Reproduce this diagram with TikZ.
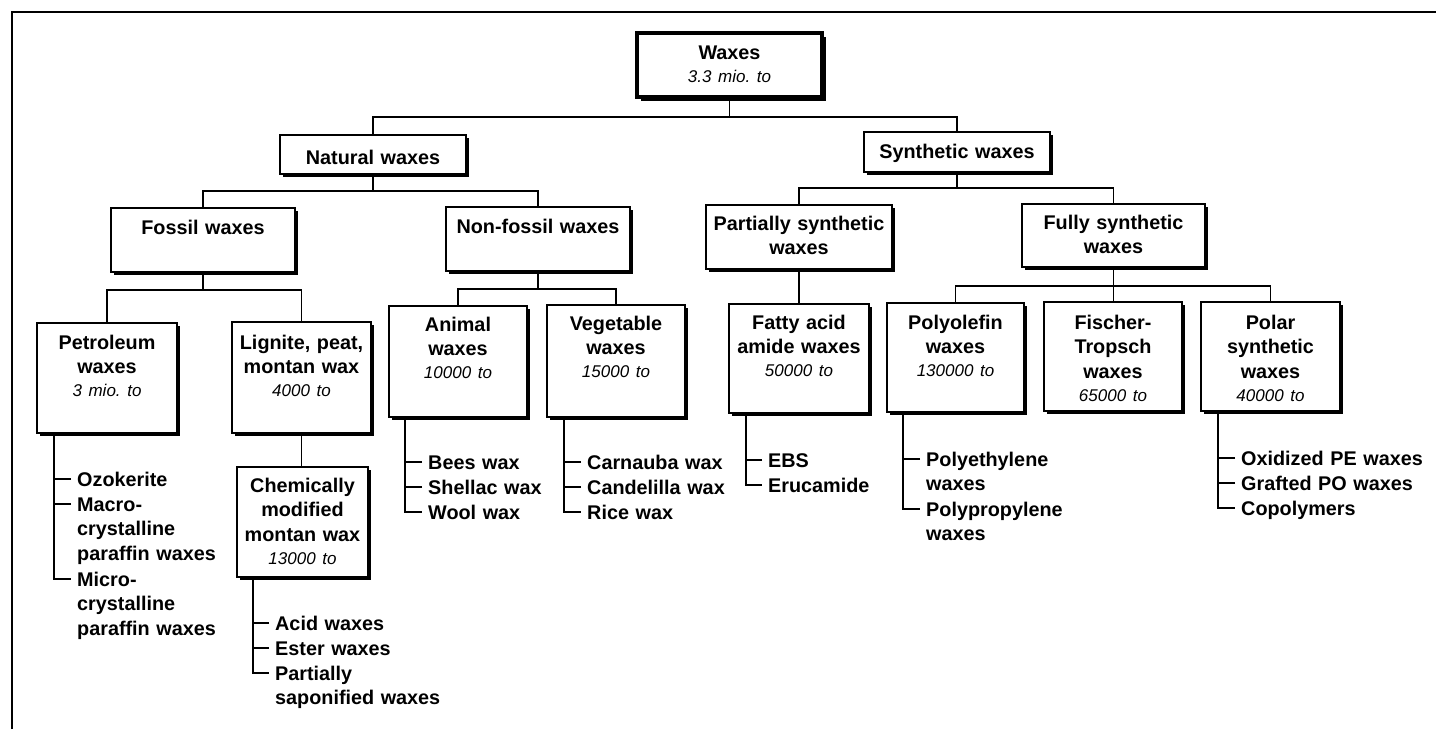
\documentclass[tikz,border=0pt]{standalone}
\usepackage{fontspec}
\setmainfont{Liberation Sans}
\usetikzlibrary{shadows}
\frenchspacing
\newcommand\amt[1]{{\mdseries\itshape\fontsize{17bp}{22bp}\selectfont\frenchspacing #1}}
\tikzset{
  conn/.style={line width=1.4bp},
  frame/.style={line width=1.4bp},
  wbox/.style={draw, line width=1.7bp, fill=white, inner sep=0pt,
    drop shadow={shadow xshift=2.8bp, shadow yshift=-2.8bp, opacity=1, fill=black}},
  rootbox/.style={draw, line width=3.6bp, fill=white, inner sep=0pt,
    drop shadow={shadow xshift=3.6bp, shadow yshift=-3.6bp, opacity=1, fill=black}},
  lbl/.style={anchor=base, inner sep=0pt, text width=200bp, align=center,
    font=\bfseries\fontsize{19.8bp}{24.8bp}\selectfont},
  item/.style={anchor=base west, inner sep=0pt, text width=210bp, align=left,
    font=\bfseries\fontsize{19.8bp}{24.8bp}\selectfont},
}
\begin{document}
\begin{tikzpicture}[x=1bp,y=-1bp]
\useasboundingbox (0,0) rectangle (1436,729);
% frame
\draw[frame] (12,729) -- (12,12) -- (1436,12);

% boxes
\node[rootbox, minimum width=185bp, minimum height=64bp] (waxes) at (729.5,65) {};
\node[wbox, minimum width=186bp, minimum height=39bp] (natural) at (373,154.5) {};
\node[wbox, minimum width=186bp, minimum height=40bp] (synthetic) at (957,152) {};
\node[wbox, minimum width=184bp, minimum height=64bp] (fossil) at (203,240) {};
\node[wbox, minimum width=184bp, minimum height=64bp] (nonfossil) at (538,239) {};
\node[wbox, minimum width=186bp, minimum height=64bp] (partial) at (799,237) {};
\node[wbox, minimum width=183bp, minimum height=63bp] (fully) at (1113.5,235.5) {};
\node[wbox, minimum width=140bp, minimum height=110bp] (petroleum) at (107,378) {};
\node[wbox, minimum width=139bp, minimum height=111bp] (lignite) at (301.5,377.5) {};
\node[wbox, minimum width=138bp, minimum height=111bp] (animal) at (458,361.5) {};
\node[wbox, minimum width=138bp, minimum height=112bp] (vegetable) at (616,361) {};
\node[wbox, minimum width=140bp, minimum height=109bp] (fatty) at (799,358.5) {};
\node[wbox, minimum width=137bp, minimum height=109bp] (polyolefin) at (955.5,357.5) {};
\node[wbox, minimum width=138bp, minimum height=109bp] (fischer) at (1113,356.5) {};
\node[wbox, minimum width=139bp, minimum height=109bp] (polar) at (1270.5,356.5) {};
\node[wbox, minimum width=131bp, minimum height=110bp] (chem) at (302.5,522) {};

% box labels
\node[lbl] (waxesT) at (729.5,60) {Waxes\\[-2bp]\amt{3.3 mio. to}};
\node[lbl] (naturalT) at (373,164) {Natural waxes};
\node[lbl] (syntheticT) at (957,158) {Synthetic waxes};
\node[lbl] (fossilT) at (203,234) {Fossil waxes};
\node[lbl] (nonfossilT) at (538,233) {Non-fossil waxes};
\node[lbl] (partialT) at (799,230) {Partially synthetic\\waxes};
\node[lbl] (fullyT) at (1113.5,229) {Fully synthetic\\waxes};
\node[lbl] (petroleumT) at (107,349) {Petroleum\\waxes\\[-2bp]\amt{3 mio. to}};
\node[lbl] (ligniteT) at (301.5,349) {Lignite, peat,\\montan wax\\[-2bp]\amt{4000 to}};
\node[lbl] (animalT) at (458,331) {Animal\\waxes\\[-2bp]\amt{10000 to}};
\node[lbl] (vegetableT) at (616,330) {Vegetable\\waxes\\[-2bp]\amt{15000 to}};
\node[lbl] (fattyT) at (799,329) {Fatty acid\\amide waxes\\[-2bp]\amt{50000 to}};
\node[lbl] (polyolefinT) at (955.5,329) {Polyolefin\\waxes\\[-2bp]\amt{130000 to}};
\node[lbl] (fischerT) at (1113,329) {Fischer-\\Tropsch\\waxes\\[-2bp]\amt{65000 to}};
\node[lbl] (polarT) at (1270.5,329) {Polar\\synthetic\\waxes\\[-2bp]\amt{40000 to}};
\node[lbl] (chemT) at (302.5,492) {Chemically\\modified\\montan wax\\[-2bp]\amt{13000 to}};

% tree connectors
\coordinate (b1) at (729.5,117);
\draw[conn] (waxes.south) -- (b1);
\draw[conn] (natural.north) |- (b1) -| (synthetic.north);
\coordinate (b2) at (373,191);
\draw[conn] (natural.south) -- (b2);
\draw[conn] (fossil.north) |- (b2) -| (nonfossil.north);
\coordinate (b3) at (957,188);
\draw[conn] (synthetic.south) -- (b3);
\draw[conn] (partial.north) |- (b3) -| (fully.north);
\coordinate (b4) at (203,290);
\draw[conn] (fossil.south) -- (b4);
\draw[conn] (petroleum.north) |- (b4) -| (lignite.north);
\coordinate (b5) at (538,289);
\draw[conn] (nonfossil.south) -- (b5);
\draw[conn] (animal.north) |- (b5) -| (vegetable.north);
\draw[conn] (partial.south) -- (partial.south |- fatty.north);
\coordinate (b6) at (1113.5,286);
\draw[conn] (fully.south) -- (b6);
\draw[conn] (polyolefin.north) |- (b6) -| (polar.north);
\draw[conn] (b6) -- (b6 |- fischer.north);
\draw[conn] (lignite.south) -- (lignite.south |- chem.north);

% lists
\node[item] (pe1) at (77,486) {Ozokerite};
\node[item] (pe2) at (77,511) {Macro-\\crystalline\\paraffin waxes};
\node[item] (pe3) at (77,586) {Micro-\\crystalline\\paraffin waxes};
\node[item] (ch1) at (275,630) {Acid waxes};
\node[item] (ch2) at (275,655) {Ester waxes};
\node[item] (ch3) at (275,680) {Partially\\saponified waxes};
\node[item] (an1) at (428,469) {Bees wax};
\node[item] (an2) at (428,494) {Shellac wax};
\node[item] (an3) at (428,519) {Wool wax};
\node[item] (ve1) at (587,469) {Carnauba wax};
\node[item] (ve2) at (587,494) {Candelilla wax};
\node[item] (ve3) at (587,519) {Rice wax};
\node[item] (fa1) at (768,467) {EBS};
\node[item] (fa2) at (768,492) {Erucamide};
\node[item] (po1) at (926,466) {Polyethylene\\waxes};
\node[item] (po2) at (926,516) {Polypropylene\\waxes};
\node[item] (pl1) at (1241,465) {Oxidized PE waxes};
\node[item] (pl2) at (1241,490) {Grafted PO waxes};
\node[item] (pl3) at (1241,515) {Copolymers};

\foreach \n in {pe1,pe2,pe3,ch1,ch2,ch3,an1,an2,an3,ve1,ve2,ve3,fa1,fa2,po1,po2,pl1,pl2,pl3}
  \coordinate (\n k) at ([shift={(-6bp,7bp)}]\n.base west);

\coordinate (peT) at ([xshift=18bp]petroleum.south west);
\coordinate (chT) at ([xshift=17bp]chem.south west);
\coordinate (anT) at ([xshift=17bp]animal.south west);
\coordinate (veT) at ([xshift=18bp]vegetable.south west);
\coordinate (faT) at ([xshift=18bp]fatty.south west);
\coordinate (poT) at ([xshift=17bp]polyolefin.south west);
\coordinate (plT) at ([xshift=18bp]polar.south west);

\draw[conn] (peT) |- (pe3k);
\foreach \k in {pe1k,pe2k} \draw[conn] (\k) -- (\k -| peT);
\draw[conn] (chT) |- (ch3k);
\foreach \k in {ch1k,ch2k} \draw[conn] (\k) -- (\k -| chT);
\draw[conn] (anT) |- (an3k);
\foreach \k in {an1k,an2k} \draw[conn] (\k) -- (\k -| anT);
\draw[conn] (veT) |- (ve3k);
\foreach \k in {ve1k,ve2k} \draw[conn] (\k) -- (\k -| veT);
\draw[conn] (faT) |- (fa2k);
\draw[conn] (fa1k) -- (fa1k -| faT);
\draw[conn] (poT) |- (po2k);
\draw[conn] (po1k) -- (po1k -| poT);
\draw[conn] (plT) |- (pl3k);
\foreach \k in {pl1k,pl2k} \draw[conn] (\k) -- (\k -| plT);
\end{tikzpicture}
\end{document}
